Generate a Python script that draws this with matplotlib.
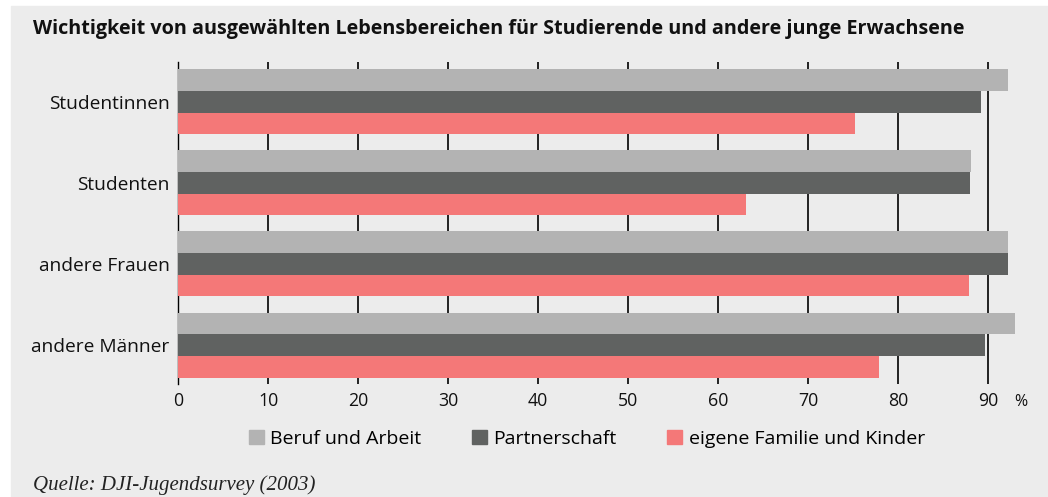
import matplotlib
matplotlib.use("Agg")
import matplotlib.pyplot as plt
import matplotlib.patches as mpatches
import numpy as np

# Werte (in %)
groups = ["Studentinnen", "Studenten", "andere Frauen", "andere Männer"]
beruf = [92.2, 88.1, 92.2, 93.0]
partner = [89.2, 88.0, 92.2, 89.7]
familie = [75.2, 63.1, 87.9, 77.9]
series_names = ["Beruf und Arbeit", "Partnerschaft", "eigene Familie und Kinder"]
xticks = [0, 10, 20, 30, 40, 50, 60, 70, 80, 90]

BG = "#ececec"
colors = ["#b3b3b3", "#606261", "#f47878"]

plt.rcParams["font.family"] = ["Open Sans", "DejaVu Sans"]

W, H = 1048, 497
fig = plt.figure(figsize=(W / 100, H / 100), dpi=100, facecolor="white")
# grey panel with a thin white margin at top and left
fig.add_artist(mpatches.Rectangle((11 / W, 0), 1 - 11 / W, 1 - 6 / H,
                                  transform=fig.transFigure, color=BG, zorder=-5))

ax = fig.add_axes([178 / W, 1 - 384 / H, 855 / W, 322 / H], facecolor=BG)

y = np.arange(len(groups))
h = 0.267
for k, vals in enumerate([beruf, partner, familie]):
    ax.barh(y + (k - 1) * h, vals, height=h, color=colors[k], zorder=3)

ax.set_xlim(0, 95)
ax.set_ylim(3.48, -0.49)
ax.set_xticks(xticks)
ax.set_xticklabels([str(t) for t in xticks], fontsize=12.8)
ax.set_yticks(y)
ax.set_yticklabels(groups, fontsize=13.8)
ax.tick_params(axis="x", length=0, pad=6, colors="#111111")
ax.tick_params(axis="y", length=0, pad=6, colors="#111111")

for t in xticks:
    ax.axvline(t, color="black", lw=1.2, zorder=1)

for s in ["top", "right", "bottom"]:
    ax.spines[s].set_visible(False)
ax.spines["left"].set_color("black")
ax.spines["left"].set_linewidth(1.0)

fig.text(1021 / W, 1 - 402 / H, "%", fontsize=11.5, ha="center", va="center",
         color="#111111")

fig.text(33 / W, 1 - 29 / H,
         "Wichtigkeit von ausgewählten Lebensbereichen für Studierende und andere junge Erwachsene",
         fontsize=14.2, fontweight="bold", ha="left", va="center", color="#111111")

handles = [mpatches.Patch(color=c) for c in colors]
fig.legend(handles, series_names, loc="center", bbox_to_anchor=(587 / W, 1 - 439 / H),
           ncol=3, frameon=False, fontsize=14, handlelength=0.75, handleheight=0.75,
           handletextpad=0.35, columnspacing=2.6)

fig.text(33 / W, 1 - 485 / H, "Quelle: DJI-Jugendsurvey (2003)",
         fontsize=15, style="italic", family="Liberation Serif", ha="left", va="center",
         color="#222222")

fig.savefig("out.png", dpi=100, facecolor="white")
